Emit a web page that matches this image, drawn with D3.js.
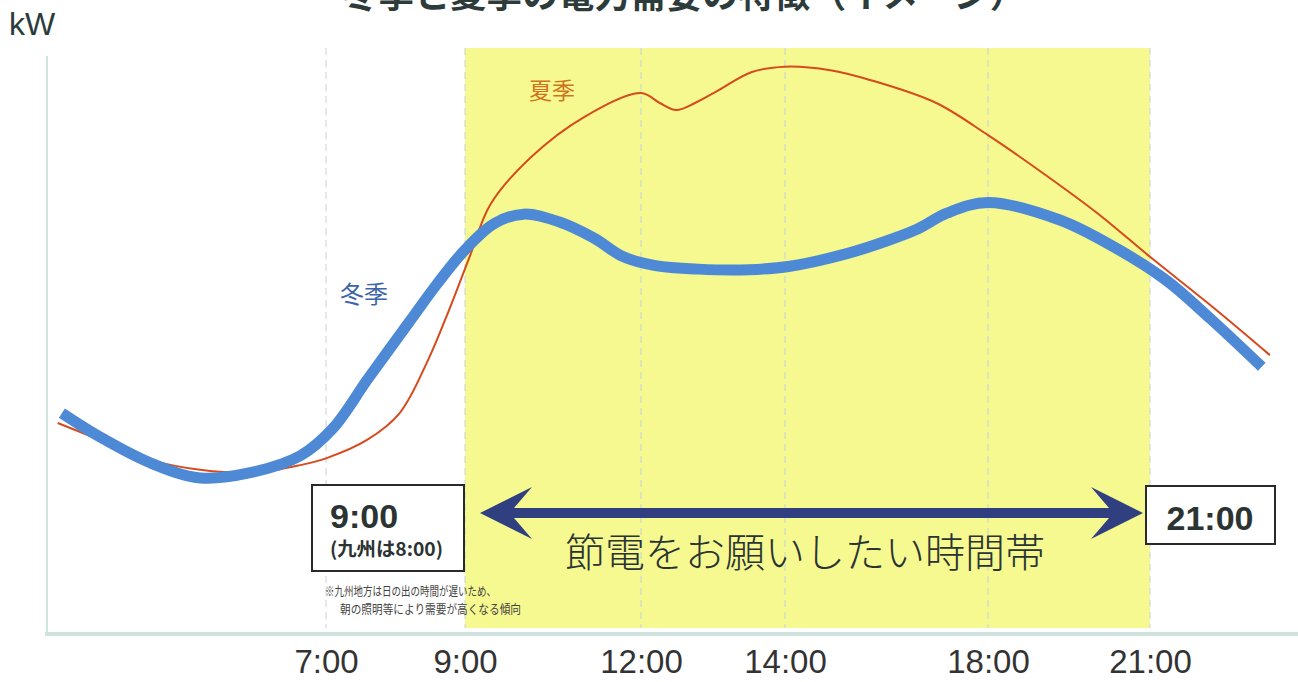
<!DOCTYPE html>
<html lang="ja">
<head>
<meta charset="utf-8">
<title>冬季と夏季の電力需要の特徴（イメージ）</title>
<script src="https://cdn.jsdelivr.net/npm/d3@7"></script>
<style>
  html, body { margin: 0; padding: 0; background: #ffffff; }
  svg { display: block; }
</style>
</head>
<body>
<svg id="chart" width="1298" height="682"></svg>
<script>
// Hour-of-day ticks shown on the time axis
const tickHours = [7, 9, 12, 14, 18, 21];
const tickLabels = ["7:00", "9:00", "12:00", "14:00", "18:00", "21:00"];

// Summer demand profile (relative kW, 0–100)
const summerHours = [3.14, 3.75, 4.47, 5.19, 5.95, 6.63, 7.01, 7.59, 8.06, 8.47, 8.77, 9.09, 9.43, 10.11, 11.03, 12.0, 12.26, 12.49, 12.75, 13.08, 13.54, 14.0, 14.89, 15.69, 16.98, 18.0, 19.02, 20.02, 21.0, 22.11, 23.22];
const summerKW    = [35.9, 33.0, 29.6, 27.9, 27.4, 28.7, 29.9, 33.0, 37.6, 46.7, 55.2, 64.6, 73.2, 81.2, 88.2, 92.3, 90.6, 89.4, 90.6, 92.8, 95.9, 96.8, 96.2, 94.5, 90.6, 85.1, 78.6, 71.8, 64.3, 56.1, 47.5];

// Winter demand profile (relative kW, 0–100)
const winterHours = [3.2, 3.75, 4.47, 5.19, 5.91, 6.63, 7.1, 7.6, 8.2, 8.6, 9.0, 9.5, 10.0, 10.6, 11.2, 11.7, 12.2, 12.8, 13.5, 14.1, 15.2, 16.0, 16.6, 17.2, 18.0, 19.33, 20.33, 21.3, 22.11, 23.07];
const winterKW    = [37.6, 33.5, 29.1, 26.5, 27.4, 30.3, 35.0, 43.4, 53.2, 59.7, 65.5, 70.0, 71.6, 70.3, 67.5, 64.3, 62.8, 62.2, 62.1, 62.7, 64.8, 67.0, 69.0, 71.8, 73.6, 70.6, 66.0, 60.3, 53.8, 45.5];

// Requested power-saving window
const savingStart = 9;
const savingEnd = 21;

const svg = d3.select("#chart");
const latin = "'Liberation Sans', Arial, sans-serif";
const cjk = "'Noto Sans CJK JP', 'Noto Sans', sans-serif";

// Uneven time axis: tick spacing follows the drawn hour marks
const x = d3.scaleLinear()
  .domain(tickHours)
  .range([326, 465, 641, 785, 988, 1150]);

const y = d3.scaleLinear().domain([0, 100]).range([633, 48]);

const plotTop = 48, plotBottom = 628;

// Title (runs off the top edge)
svg.append("text")
  .attr("x", 684).attr("y", 8)
  .attr("text-anchor", "middle")
  .attr("font-family", cjk).attr("font-weight", "bold")
  .attr("font-size", 36).attr("fill", "#2d3b3b")
  .text("冬季と夏季の電力需要の特徴（イメージ）");

// Unit label
svg.append("text")
  .attr("x", 9).attr("y", 35)
  .attr("font-family", latin).attr("font-size", 32)
  .attr("fill", "#2b3a3a")
  .text("kW");

// Power-saving band
svg.append("rect")
  .attr("x", x(savingStart)).attr("y", plotTop)
  .attr("width", x(savingEnd) - x(savingStart))
  .attr("height", plotBottom - plotTop)
  .attr("fill", "#f5f98f");

// Dashed vertical guides at each tick
svg.append("g").selectAll("line")
  .data(tickHours).join("line")
  .attr("x1", d => x(d)).attr("x2", d => x(d))
  .attr("y1", plotTop).attr("y2", plotBottom)
  .attr("stroke", "#c6d1de").attr("stroke-width", 1)
  .attr("stroke-dasharray", "7,5");

// Axes lines
svg.append("line")
  .attr("x1", 47).attr("x2", 47).attr("y1", 56).attr("y2", 634)
  .attr("stroke", "#cde6e0").attr("stroke-width", 2);
svg.append("line")
  .attr("x1", 45).attr("x2", 1298).attr("y1", 634).attr("y2", 634)
  .attr("stroke", "#cfe2dd").attr("stroke-width", 4);

// Tick labels
const xAxis = d3.axisBottom(x)
  .tickValues(tickHours)
  .tickFormat((d, i) => tickLabels[i])
  .tickSize(0).tickPadding(0);
const gx = svg.append("g").attr("transform", "translate(0,650)").call(xAxis);
gx.select(".domain").remove();
gx.selectAll("text")
  .attr("dy", "0.71em")
  .attr("font-family", latin).attr("font-size", 33)
  .attr("fill", "#333333");

// Demand curves
const line = d3.line()
  .x(d => x(d[0])).y(d => y(d[1]))
  .curve(d3.curveCatmullRom.alpha(0.5));

const summer = summerHours.map((h, i) => [h, summerKW[i]]);
const winter = winterHours.map((h, i) => [h, winterKW[i]]);

svg.append("path")
  .attr("d", line(summer))
  .attr("fill", "none").attr("stroke", "#d64a1c").attr("stroke-width", 2);

svg.append("path")
  .attr("d", line(winter))
  .attr("fill", "none").attr("stroke", "#4d89d5").attr("stroke-width", 11)
  .attr("stroke-linecap", "butt").attr("stroke-linejoin", "round");

// Series labels
svg.append("text")
  .attr("x", 529).attr("y", 99)
  .attr("font-family", cjk).attr("font-size", 23)
  .attr("fill", "#d0731e")
  .text("夏季");
svg.append("text")
  .attr("x", 340).attr("y", 303)
  .attr("font-family", cjk).attr("font-size", 24)
  .attr("fill", "#3c65a8")
  .text("冬季");

// Start-time box
const startBox = svg.append("g");
startBox.append("rect")
  .attr("x", 312).attr("y", 485).attr("width", 152).attr("height", 86)
  .attr("fill", "#ffffff").attr("stroke", "#2a2a2a").attr("stroke-width", 2);
startBox.append("text")
  .attr("x", 330).attr("y", 528)
  .attr("font-family", latin).attr("font-weight", "bold").attr("font-size", 34)
  .attr("fill", "#2b3333")
  .text("9:00");
startBox.append("text")
  .attr("x", 330).attr("y", 556)
  .attr("font-family", cjk).attr("font-weight", "bold").attr("font-size", 19)
  .attr("fill", "#2b3333")
  .attr("textLength", 113).attr("lengthAdjust", "spacingAndGlyphs")
  .text("(九州は8:00)");

// End-time box
const endBox = svg.append("g");
endBox.append("rect")
  .attr("x", 1146).attr("y", 486).attr("width", 129).attr("height", 58)
  .attr("fill", "#ffffff").attr("stroke", "#2a2a2a").attr("stroke-width", 2);
endBox.append("text")
  .attr("x", 1210).attr("y", 530)
  .attr("text-anchor", "middle")
  .attr("font-family", latin).attr("font-weight", "bold").attr("font-size", 34)
  .attr("fill", "#2b3333")
  .text("21:00");

// Footnote
svg.append("text")
  .attr("x", 325).attr("y", 596)
  .attr("font-family", cjk).attr("font-size", 12.5)
  .attr("fill", "#444444")
  .attr("textLength", 171).attr("lengthAdjust", "spacingAndGlyphs")
  .text("※九州地方は日の出の時間が遅いため、");
svg.append("text")
  .attr("x", 340).attr("y", 614)
  .attr("font-family", cjk).attr("font-size", 12.5)
  .attr("fill", "#444444")
  .attr("textLength", 181).attr("lengthAdjust", "spacingAndGlyphs")
  .text("朝の照明等により需要が高くなる傾向");

// Double-headed arrow spanning the saving window
const ay = 513;
const ax0 = x(savingStart) + 15, ax1 = x(savingEnd) - 7;
const headLen = 52, headHalf = 26, notch = 34, shaftHalf = 5;
const arrowPath = [
  [ax0, ay],
  [ax0 + headLen, ay - headHalf],
  [ax0 + notch, ay - shaftHalf],
  [ax1 - notch, ay - shaftHalf],
  [ax1 - headLen, ay - headHalf],
  [ax1, ay],
  [ax1 - headLen, ay + headHalf],
  [ax1 - notch, ay + shaftHalf],
  [ax0 + notch, ay + shaftHalf],
  [ax0 + headLen, ay + headHalf]
];
svg.append("path")
  .attr("d", d3.line()(arrowPath) + "Z")
  .attr("fill", "#2f3f80");

// Window caption
svg.append("text")
  .attr("x", 805).attr("y", 567)
  .attr("text-anchor", "middle")
  .attr("font-family", cjk).attr("font-weight", 300).attr("font-size", 40)
  .attr("fill", "#2a3434")
  .text("節電をお願いしたい時間帯");
</script>
</body>
</html>
